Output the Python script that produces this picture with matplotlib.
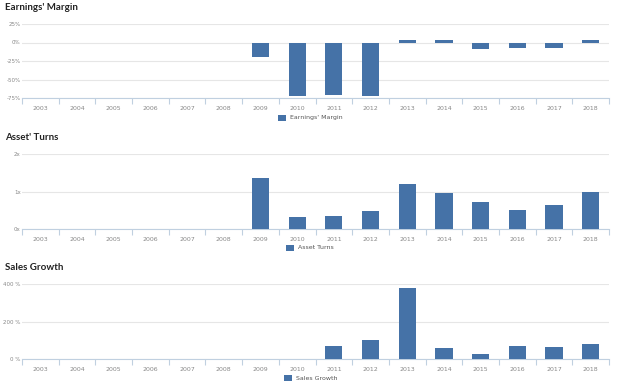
import numpy as np
import matplotlib
matplotlib.use("Agg")
import matplotlib.pyplot as plt
from matplotlib.patches import Rectangle

years = [str(y) for y in range(2003, 2019)]
nan = np.nan
earnings_margin = [nan, nan, nan, nan, nan, nan, -19, -72, -71, -72, 3, 3, -8.5, -7, -8, 3.5]
asset_turns = [nan, nan, nan, nan, nan, nan, 1.35, 0.31, 0.35, 0.48, 1.2, 0.95, 0.72, 0.50, 0.63, 1.0]
sales_growth = [nan, nan, nan, nan, nan, nan, nan, nan, 70, 100, 380, 57, 25, 70, 63, 80]

margin_ticks = [25, 0, -25, -50, -75]
margin_labels = ["25%", "0%", "-25%", "-50%", "-75%"]
turns_ticks = [0, 1, 2]
turns_labels = ["0x", "1x", "2x"]
growth_ticks = [0, 200, 400]
growth_labels = ["0 %", "200 %", "400 %"]

W, H = 624, 386
BAR = "#4572A7"
GRID = "#e6e6e6"
TXT = "#888888"

fig = plt.figure(figsize=(W / 100, H / 100), dpi=100)
fig.patch.set_facecolor("white")

def px_axes(x0, y_top, x1, y_bot):
    return fig.add_axes([x0 / W, 1 - y_bot / H, (x1 - x0) / W, (y_bot - y_top) / H])

def panel(title, title_y, vals, ylim, ticks, labels, top, bot, legend_label, legend_y, legend_x):
    ax = px_axes(22, top, 609, bot)
    x = np.arange(len(years))
    ax.bar(x, vals, width=0.47, color=BAR, zorder=3)
    ax.set_xlim(-0.5, len(years) - 0.5)
    ax.set_ylim(*ylim)
    ax.set_yticks(ticks)
    ax.set_yticklabels(labels)
    ax.set_xticks(x)
    ax.set_xticklabels(years)
    ax.set_xticks(np.arange(-0.5, len(years)), minor=True)
    ax.tick_params(axis="x", which="major", length=0, labelsize=4.5, labelcolor=TXT, pad=6)
    ax.tick_params(axis="x", which="minor", length=4, color="#c0d0e0", width=0.8)
    ax.tick_params(axis="y", length=0, labelsize=4, labelcolor=TXT, pad=1)
    ax.grid(axis="y", color=GRID, linewidth=0.8, zorder=0)
    for s in ["top", "right", "left"]:
        ax.spines[s].set_visible(False)
    ax.spines["bottom"].set_color("#c0d0e0")
    ax.spines["bottom"].set_linewidth(0.8)
    ax.set_facecolor("none")
    fig.text(5 / W, 1 - title_y / H, title, fontsize=7, fontweight="bold",
             family=["Lato", "DejaVu Sans"], color="#222222", va="center", ha="left")
    fig.patches.append(Rectangle((legend_x / W, 1 - (legend_y + 3) / H), 8 / W, 6 / H,
                                 transform=fig.transFigure, facecolor=BAR, edgecolor="none"))
    fig.text((legend_x + 12) / W, 1 - legend_y / H, legend_label, fontsize=4.5,
             color="#555555", va="center", ha="left")
    return ax

panel("Earnings' Margin", 8, earnings_margin, (-75, 25), margin_ticks, margin_labels,
      24, 98, "Earnings' Margin", 118, 278)
panel("Asset' Turns", 138, asset_turns, (0, 2), turns_ticks, turns_labels,
      154.3, 228.7, "Asset Turns", 248, 286)
panel("Sales Growth", 268, sales_growth, (0, 400), growth_ticks, growth_labels,
      284.3, 359, "Sales Growth", 378, 284)

fig.savefig("out.png", dpi=100, facecolor="white")
